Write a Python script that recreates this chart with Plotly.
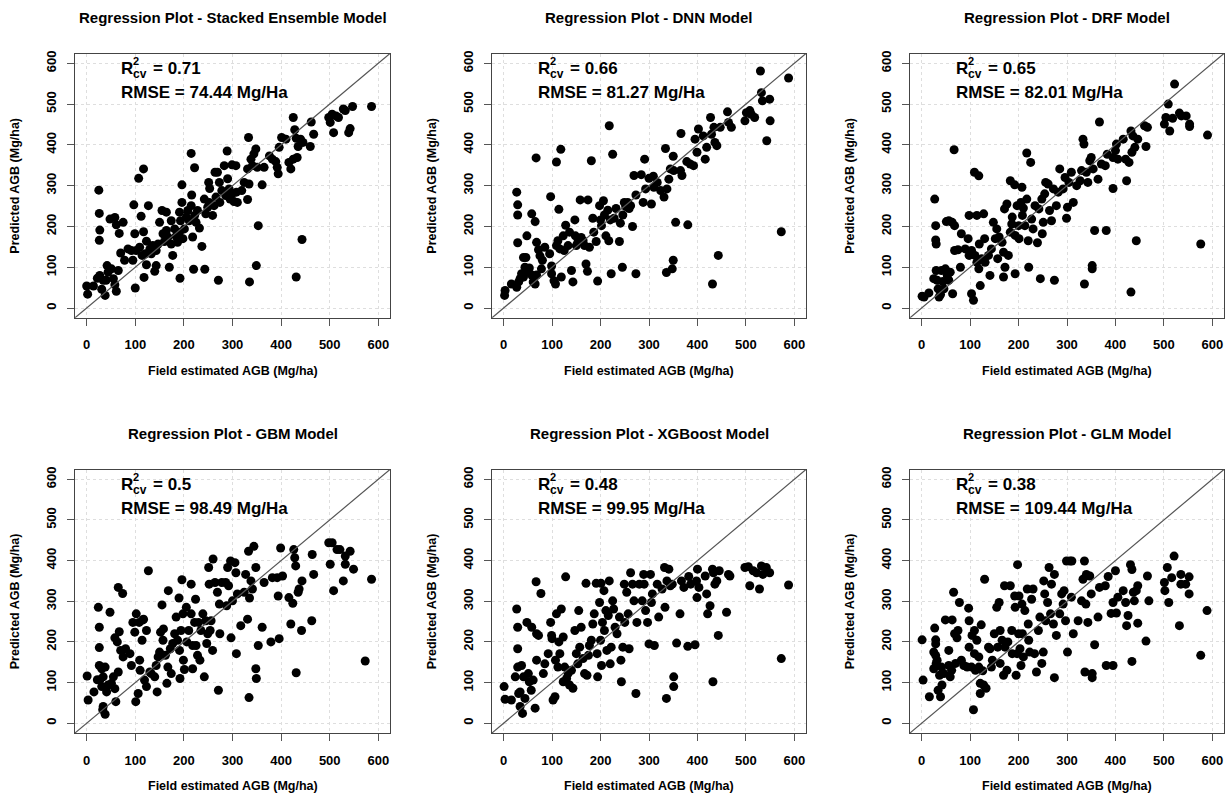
import plotly.graph_objects as go

titles = ["Regression Plot - Stacked Ensemble Model", "Regression Plot - DNN Model",
          "Regression Plot - DRF Model", "Regression Plot - GBM Model",
          "Regression Plot - XGBoost Model", "Regression Plot - GLM Model"]
r2_values = ["0.71", "0.66", "0.65", "0.5", "0.48", "0.38"]
rmse_values = ["74.44", "81.27", "82.01", "98.49", "99.95", "109.44"]
tick_vals = [0, 100, 200, 300, 400, 500, 600]
axis_lim = [-24, 624]
x_label = "Field estimated AGB (Mg/ha)"
y_label = "Predicted AGB (Mg/ha)"

stacked_pts = [(0,54),(2,34),(14,54),(25,289),(26,232),(27,191),(26,166),(22,73),(27,80),(34,68),(31,46),(38,31),
 (42,104),(44,88),(40,68),(51,96),(55,72),(58,57),(61,41),(65,92),(48,218),(58,222),(61,204),(67,183),(75,210),
 (70,135),(78,117),(85,145),(92,141),(95,117),(97,253),(99,182),(102,141),(100,49),(107,318),(117,341),(112,225),
 (117,187),(109,149),(114,129),(121,133),(118,75),(123,106),(127,251),(123,164),(130,145),(133,133),(136,153),
 (140,90),(143,104),(143,141),(147,157),(150,210),(155,239),(157,182),(164,235),(164,190),(167,174),(160,163),
 (170,100),(174,157),(177,129),(174,214),(181,194),(184,176),(187,161),(191,186),(193,214),(191,235),(196,259),
 (196,302),(192,73),(198,170),(201,194),(205,223),(208,239),(211,214),(215,251),(218,174),(215,379),(216,277),
 (222,344),(220,95),(222,227),(225,210),(228,239),(232,196),(237,151),(242,267),(243,95),(245,231),(249,247),
 (252,259),(251,308),(253,293),(259,227),(262,251),(264,333),(269,333),(266,272),(271,68),(273,308),(274,259),
 (278,288),(283,349),(286,276),(289,385),(290,317),(293,292),(295,267),(299,351),(300,281),(307,349),(303,261),
 (308,284),(310,259),(319,288),(324,308),(331,266),(333,418),(331,341),(334,304),(335,64),(338,365),(341,349),
 (344,378),(348,390),(349,104),(353,202),(351,345),(365,345),(361,302),(376,373),(382,365),(389,359),(392,345),
 (394,329),(396,394),(401,418),(410,414),(416,357),(420,341),(425,365),(425,467),(428,437),(431,416),(433,369),
 (431,76),(435,396),(440,414),(443,168),(445,406),(460,396),(462,456),(467,426),(498,467),(501,455),(505,475),
 (508,430),(513,471),(518,467),(528,488),(532,484),(539,430),(542,440),(547,494),(586,494)]

dnn_pts = [(2,31),(3,43),(16,59),(27,284),(29,253),(29,228),(29,160),(27,51),(31,64),(34,72),(41,76),(37,84),
 (48,177),(58,231),(65,212),(67,368),(68,161),(72,143),(41,124),(46,124),(44,100),(53,98),(51,88),(58,81),(61,64),
 (65,59),(68,81),(75,128),(80,117),(85,149),(78,96),(95,133),(97,273),(99,103),(99,84),(104,67),(107,59),(109,358),
 (114,242),(118,389),(109,153),(112,165),(116,145),(119,76),(123,177),(125,141),(128,203),(133,153),(136,186),
 (140,92),(143,64),(147,216),(148,177),(150,153),(153,161),(158,265),(160,173),(164,165),(167,153),(170,108),
 (173,90),(174,265),(177,149),(181,361),(184,220),(186,186),(191,163),(194,66),(198,251),(200,216),(202,202),
 (206,263),(208,228),(211,177),(215,240),(217,165),(218,447),(220,216),(222,84),(225,377),(228,220),(232,244),
 (239,163),(241,208),(245,100),(246,228),(249,259),(252,249),(256,259),(259,244),(262,251),(266,200),(269,325),
 (273,84),(273,277),(284,327),(288,259),(291,365),(293,292),(300,318),(305,255),(309,323),(310,296),(317,308),
 (324,288),(331,272),(334,391),(336,87),(337,292),(341,316),(344,341),(348,96),(350,372),(350,117),(351,337),
 (355,210),(365,337),(366,428),(368,325),(378,359),(380,204),(385,353),(392,349),(395,414),(399,382),(402,439),
 (412,422),(416,365),(419,394),(427,467),(429,426),(431,59),(434,443),(436,406),(440,398),(443,129),(447,443),
 (462,481),(464,455),(470,443),(498,459),(501,479),(508,484),(511,475),(518,467),(530,581),(532,528),(534,508),
 (549,512),(550,459),(543,410),(573,187),(588,564)]

drf_pts = [(1,29),(5,27),(15,37),(27,267),(29,202),(29,167),(30,157),(25,72),(30,92),(32,68),(34,47),(36,27),
 (39,33),(41,92),(44,65),(46,47),(49,96),(53,80),(56,68),(59,88),(51,212),(56,214),(63,210),(68,202),(67,388),
 (64,35),(68,141),(75,143),(80,100),(82,182),(90,145),(96,170),(98,227),(98,129),(103,141),(103,35),(107,19),
 (109,333),(118,324),(114,227),(110,129),(114,112),(118,96),(121,55),(119,157),(124,121),(128,231),(130,170),
 (131,112),(138,129),(141,80),(144,145),(148,210),(152,170),(155,194),(157,121),(160,174),(166,161),(169,76),
 (172,100),(169,137),(171,243),(176,255),(179,129),(183,186),(183,312),(186,206),(187,223),(192,302),(193,84),
 (193,178),(197,251),(200,202),(201,170),(205,259),(207,296),(208,227),(210,245),(213,202),(217,267),(217,380),
 (220,165),(221,100),(225,357),(227,218),(230,194),(234,251),(239,160),(242,243),(245,72),(248,267),(249,182),
 (251,210),(254,280),(256,308),(261,304),(264,239),(268,214),(272,292),(274,68),(278,251),(282,284),(285,341),
 (292,292),(296,320),(299,220),(301,247),(304,308),(309,333),(313,259),(320,300),(327,312),(330,337),(333,414),
 (336,59),(335,402),(340,333),(343,308),(347,361),(350,369),(352,104),(352,96),(354,341),(357,190),(364,316),
 (367,456),(371,353),(381,190),(379,349),(383,377),(395,293),(395,369),(400,386),(402,402),(405,365),(416,414),
 (421,365),(423,312),(428,357),(432,434),(432,39),(434,382),(436,422),(440,394),(443,165),(446,414),(460,447),
 (463,396),(466,443),(501,451),(504,467),(509,500),(512,434),(518,465),(522,549),(532,478),(536,471),(546,471),
 (553,451),(553,445),(576,157),(590,424)]

gbm_pts = [(1,116),(3,57),(15,77),(24,285),(26,236),(26,186),(22,107),(26,142),(27,106),(31,134),(31,90),(34,114),
 (38,138),(34,41),(33,33),(38,22),(41,77),(44,94),(48,273),(51,98),(55,114),(58,85),(60,53),(58,210),(63,200),
 (65,334),(67,225),(70,179),(65,126),(74,319),(75,163),(80,183),(89,171),(92,142),(95,248),(99,224),(101,53),
 (102,269),(106,73),(108,248),(109,155),(110,130),(114,204),(116,254),(117,256),(119,106),(123,90),(127,375),
 (123,228),(130,126),(133,122),(140,114),(143,142),(145,77),(147,163),(150,175),(152,224),(155,291),(157,204),
 (158,232),(162,167),(165,98),(167,138),(168,326),(172,183),(174,122),(177,196),(181,220),(184,261),(187,204),
 (191,179),(192,110),(190,308),(194,228),(196,353),(198,269),(199,155),(201,132),(205,285),(206,200),(210,228),
 (215,342),(215,269),(218,191),(218,134),(222,248),(224,305),(225,191),(228,167),(230,248),(233,155),(235,228),
 (239,269),(242,114),(245,252),(247,196),(249,220),(251,383),(252,342),(254,228),(256,252),(259,179),(260,404),
 (264,346),(269,322),(271,81),(273,293),(274,220),(278,346),(286,346),(288,289),(290,383),(292,338),(296,399),
 (297,210),(300,301),(305,395),(307,370),(308,171),(310,318),(317,240),(324,322),(327,366),(331,256),(333,423),
 (334,63),(335,308),(338,350),(341,330),(344,435),(348,134),(349,110),(348,383),(353,191),(361,236),(365,346),
 (379,200),(382,358),(392,358),(394,313),(396,208),(399,431),(403,362),(416,309),(420,244),(424,295),(426,427),
 (428,407),(430,387),(431,124),(435,322),(437,330),(442,228),(443,350),(463,252),(464,415),(467,366),(498,444),
 (501,391),(505,444),(508,326),(515,427),(521,427),(528,350),(532,411),(532,391),(542,423),(549,379),(573,153),
 (586,354)]

xgb_pts = [(1,90),(3,59),(16,57),(27,281),(29,236),(29,183),(24,114),(29,138),(31,73),(34,77),(34,41),(39,24),
 (37,142),(41,114),(44,61),(48,248),(51,122),(53,102),(57,81),(58,236),(61,106),(65,37),(67,348),(68,220),
 (72,216),(68,155),(77,319),(82,122),(85,146),(92,171),(97,248),(99,216),(100,208),(102,57),(106,65),(107,155),
 (109,269),(112,138),(114,200),(116,171),(119,281),(123,212),(123,102),(128,360),(126,138),(130,110),(133,122),
 (136,94),(140,130),(143,86),(147,228),(150,171),(153,146),(155,277),(157,187),(160,236),(164,159),(167,122),
 (170,344),(172,118),(175,167),(177,191),(181,204),(184,244),(187,269),(191,344),(193,171),(194,114),(198,297),
 (200,204),(201,344),(202,142),(204,248),(207,326),(208,228),(211,277),(213,179),(216,265),(218,350),(220,146),
 (222,187),(225,301),(227,281),(230,236),(234,220),(239,261),(242,155),(243,102),(246,187),(249,342),(250,248),
 (254,322),(257,269),(259,183),(262,370),(266,342),(269,301),(273,73),(275,248),(280,342),(286,301),(289,366),
 (290,342),(293,277),(297,248),(300,195),(303,366),(305,297),(307,318),(311,191),(317,342),(320,261),(327,330),
 (332,383),(333,285),(336,61),(337,350),(341,379),(344,338),(348,342),(351,114),(351,90),(357,197),(364,269),
 (367,350),(372,334),(380,189),(382,361),(386,342),(395,193),(398,350),(399,309),(400,379),(403,334),(416,362),
 (419,318),(421,269),(426,289),(431,379),(432,102),(433,370),(436,342),(440,350),(443,216),(445,375),(460,273),
 (464,366),(467,362),(498,383),(505,385),(508,338),(515,375),(522,370),(528,330),(532,387),(535,366),(542,383),
 (549,370),(573,159),(588,340)]

glm_pts = [(1,205),(3,106),(16,65),(27,234),(29,205),(29,195),(25,175),(25,134),(29,167),(30,147),(32,155),
 (34,81),(39,65),(37,118),(42,94),(41,138),(46,122),(49,254),(56,179),(56,142),(59,114),(62,130),(63,254),
 (66,322),(68,220),(70,147),(73,210),(75,228),(78,297),(82,155),(87,142),(94,138),(97,283),(98,252),(98,187),
 (103,138),(104,216),(107,33),(109,228),(109,171),(111,130),(114,204),(118,163),(118,138),(121,98),(121,73),
 (123,242),(126,129),(128,94),(130,354),(133,86),(138,187),(141,183),(144,138),(146,155),(150,220),(155,285),
 (157,187),(160,297),(162,228),(162,147),(166,204),(169,118),(171,338),(172,187),(176,130),(178,200),(183,338),
 (186,228),(187,171),(192,313),(193,285),(195,118),(197,171),(198,390),(200,220),(201,313),(203,183),(205,142),
 (207,293),(208,220),(210,163),(213,277),(218,330),(220,244),(221,204),(223,175),(227,305),(230,330),(233,171),
 (237,126),(241,228),(244,261),(248,147),(251,175),(252,350),(254,318),(256,252),(260,297),(263,383),(266,269),
 (268,342),(272,244),(274,366),(274,112),(278,216),(285,269),(289,318),(292,293),(294,326),(297,252),(299,399),
 (301,175),(306,399),(309,310),(310,399),(313,220),(323,252),(330,301),(333,354),(336,399),(337,126),(339,293),
 (340,366),(343,248),(347,362),(350,318),(352,122),(352,112),(357,193),(364,261),(367,334),(379,338),(381,142),
 (385,361),(395,142),(395,297),(391,270),(400,375),(402,271),(405,310),(416,326),(421,297),(423,240),(426,265),
 (431,390),(434,378),(434,152),(437,322),(439,301),(443,326),(446,338),(446,246),(463,202),(466,362),(469,301),
 (501,346),(502,326),(507,383),(510,297),(516,358),(521,411),(532,240),(535,366),(535,342),(545,342),(552,360),
 (552,318),(576,167),(589,277)]

panels = [stacked_pts, dnn_pts, drf_pts, gbm_pts, xgb_pts, glm_pts]

W, H = 1228, 799
col_px = [(75, 390), (492, 806), (910, 1224)]
row_px = [(50.7, 316), (468.3, 732.7)]
FONT = "Liberation Sans, Arial, sans-serif"

fig = go.Figure()
annotations = []
shapes = []
layout = dict(width=W, height=H, margin=dict(l=0, r=0, t=0, b=0),
              paper_bgcolor="white", plot_bgcolor="white", showlegend=False,
              font=dict(family=FONT, color="black"))

for i, pts in enumerate(panels):
    r, c = divmod(i, 3)
    x0p, x1p = col_px[c]
    y0p, y1p = row_px[r]
    n = "" if i == 0 else str(i + 1)
    xs = [p[0] for p in pts]
    ys = [p[1] for p in pts]
    fig.add_trace(go.Scatter(x=xs, y=ys, mode="markers", xaxis="x" + n, yaxis="y" + n,
                             marker=dict(size=9, color="black", line=dict(width=0)),
                             hoverinfo="skip"))
    common = dict(range=axis_lim, tickvals=tick_vals, showgrid=True, gridcolor="#dedede",
                  griddash="dot", gridwidth=1, zeroline=False, showline=True, mirror=True,
                  linecolor="#444444", linewidth=1, ticks="outside", ticklen=7, tickcolor="#555555",
                  ticklabeloverflow="allow",
                  tickfont=dict(family=FONT, size=13, color="black", weight="bold"), fixedrange=True)
    layout["xaxis" + n] = dict(common, domain=[x0p / W, x1p / W], anchor="y" + n, ticklabelstandoff=8)
    layout["yaxis" + n] = dict(common, domain=[1 - y1p / H, 1 - y0p / H], anchor="x" + n,
                               tickangle=-90, ticklabelstandoff=6)
    shapes.append(dict(type="line", xref="x" + n, yref="y" + n, x0=axis_lim[0], y0=axis_lim[0],
                       x1=axis_lim[1], y1=axis_lim[1], line=dict(color="#555555", width=1.2)))
    cx = (x0p + x1p) / 2 / W
    cy = 1 - (y0p + y1p) / 2 / H
    annotations.append(dict(text="<b>%s</b>" % titles[i], xref="paper", yref="paper",
                            x=cx, y=1 - (y0p - 36.5) / H, xanchor="center", yanchor="middle",
                            showarrow=False, font=dict(size=15, family=FONT)))
    annotations.append(dict(text="<b>%s</b>" % x_label, xref="paper", yref="paper",
                            x=cx, y=1 - (y1p + 53) / H, xanchor="center", yanchor="middle",
                            showarrow=False, font=dict(size=12.5, family=FONT)))
    annotations.append(dict(text="<b>%s</b>" % y_label, xref="paper", yref="paper",
                            x=(x0p - 60) / W, y=cy, xanchor="center", yanchor="middle", textangle=-90,
                            showarrow=False, font=dict(size=12.5, family=FONT)))
    dref = dict(xref="x%s domain" % n, yref="y%s domain" % n, x=0, y=1, xanchor="left",
                yanchor="middle", showarrow=False)
    annotations.append(dict(dref, text="<b>R</b>", xshift=44, yshift=-15, font=dict(size=17, family=FONT)))
    annotations.append(dict(dref, text="<b>2</b>", xshift=56, yshift=-7.5, font=dict(size=11, family=FONT)))
    annotations.append(dict(dref, text="<b>cv</b>", xshift=56, yshift=-20.5, font=dict(size=12, family=FONT)))
    annotations.append(dict(dref, text="<b>= %s</b>" % r2_values[i], xshift=75.5, yshift=-15,
                            font=dict(size=17, family=FONT)))
    annotations.append(dict(dref, text="<b>RMSE = %s Mg/Ha</b>" % rmse_values[i], xshift=44, yshift=-38.5,
                            font=dict(size=17, family=FONT)))

layout["annotations"] = annotations
layout["shapes"] = shapes
fig.update_layout(**layout)
fig.write_html("out.html", config={"displayModeBar": False},
               post_script="document.body.style.margin='0';document.body.style.overflow='hidden';")
